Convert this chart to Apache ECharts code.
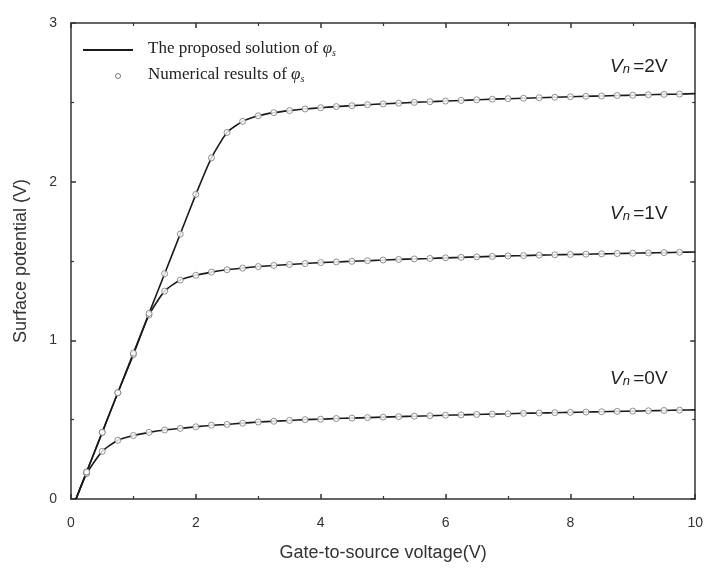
<!DOCTYPE html>
<html>
<head>
<meta charset="utf-8">
<script src="https://cdn.jsdelivr.net/npm/echarts@6/dist/echarts.min.js"></script>
<style>
  html, body { margin: 0; padding: 0; background: #fff; }
  #chart { width: 706px; height: 569px; }
</style>
</head>
<body>
<div id="chart"></div>
<script>
// gate-to-source voltage (V), sample points
var vgs = [0.25, 0.5, 0.75, 1.0, 1.25, 1.5, 1.75, 2.0, 2.25, 2.5,
           2.75, 3.0, 3.25, 3.5, 3.75, 4.0, 4.25, 4.5, 4.75, 5.0,
           5.25, 5.5, 5.75, 6.0, 6.25, 6.5, 6.75, 7.0, 7.25, 7.5,
           7.75, 8.0, 8.25, 8.5, 8.75, 9.0, 9.25, 9.5, 9.75, 10.0];

// surface potential (V) for Vn = 0, 1, 2 V
var phiVn0 = [0.16, 0.30, 0.37, 0.40, 0.42, 0.435, 0.445, 0.455, 0.465, 0.47,
              0.478, 0.485, 0.49, 0.495, 0.50, 0.503, 0.507, 0.51, 0.513, 0.516,
              0.519, 0.522, 0.525, 0.528, 0.53, 0.533, 0.535, 0.537, 0.54, 0.542,
              0.544, 0.546, 0.548, 0.55, 0.552, 0.554, 0.556, 0.558, 0.56, 0.562];
var phiVn1 = [0.17, 0.42, 0.67, 0.91, 1.16, 1.31, 1.38, 1.41, 1.43, 1.445,
              1.455, 1.465, 1.472, 1.478, 1.484, 1.49, 1.494, 1.498, 1.502, 1.506,
              1.51, 1.513, 1.516, 1.52, 1.523, 1.526, 1.529, 1.532, 1.534, 1.537,
              1.539, 1.541, 1.543, 1.545, 1.547, 1.549, 1.551, 1.553, 1.555, 1.557];
var phiVn2 = [0.17, 0.42, 0.67, 0.92, 1.17, 1.42, 1.67, 1.92, 2.15, 2.31,
              2.38, 2.415, 2.435, 2.448, 2.458, 2.466, 2.473, 2.479, 2.485, 2.49,
              2.495, 2.5, 2.504, 2.508, 2.512, 2.516, 2.52, 2.523, 2.526, 2.529,
              2.532, 2.535, 2.538, 2.54, 2.543, 2.545, 2.548, 2.55, 2.552, 2.555];

// curves all start from threshold point
var startPoint = [0.08, 0];
var curveLabels = ['2V', '1V', '0V'];

var toPairs = function (ys) {
    return vgs.map(function (x, i) { return [x, ys[i]]; });
};

var chart = echarts.init(document.getElementById('chart'));

var lineSeries = function (ys) {
    return {
        name: 'proposed',
        type: 'line',
        data: [startPoint].concat(toPairs(ys)),
        symbol: 'none',
        smooth: 0.2,
        lineStyle: { color: '#1a1a1a', width: 1.6 },
        z: 2
    };
};
var dotSeries = function (ys) {
    // numerical points, last sample not drawn
    return {
        name: 'numerical',
        type: 'scatter',
        data: toPairs(ys).slice(0, -1),
        symbol: 'circle',
        symbolSize: 6,
        itemStyle: { color: '#fff', borderColor: '#777', borderWidth: 1 },
        z: 3
    };
};

var axisCommon = {
    axisLine: { show: true, onZero: false, lineStyle: { color: '#333', width: 1.5 } },
    axisTick: { show: true, inside: true, length: 5, lineStyle: { color: '#333', width: 1.5 } },
    minorTick: { show: true, splitNumber: 2, length: 3, lineStyle: { color: '#333', width: 1.2 } },
    splitLine: { show: false }
};

var vnLabel = function (txt, y) {
    return {
        type: 'text',
        left: 610,
        top: y - 11,
        style: {
            text: '{v|V}{n|n} {r|=' + txt + '}',
            rich: {
                v: { fontFamily: 'Liberation Sans', fontSize: 19, fontStyle: 'italic', fill: '#222' },
                n: { fontFamily: 'Liberation Sans', fontSize: 13, fontStyle: 'italic', fill: '#222', verticalAlign: 'bottom', padding: [6, 0, 0, 0] },
                r: { fontFamily: 'Liberation Sans', fontSize: 19, fill: '#222' }
            }
        }
    };
};

var legendRich = {
    t: { fontFamily: 'Liberation Serif', fontSize: 17, fill: '#222' },
    p: { fontFamily: 'Liberation Serif', fontSize: 17, fontStyle: 'italic', fill: '#222' },
    s: { fontFamily: 'Liberation Serif', fontSize: 10, fontStyle: 'italic', fill: '#222', padding: [10, 0, 0, 0] }
};

var option = {
    animation: false,
    backgroundColor: '#fff',
    grid: { left: 71, right: 10, top: 23, bottom: 70 },
    xAxis: [
        Object.assign({
            type: 'value', min: 0, max: 10, interval: 2, position: 'bottom',
            name: 'Gate-to-source voltage(V)', nameLocation: 'middle', nameGap: 45,
            nameTextStyle: { fontFamily: 'Liberation Sans', fontSize: 18, color: '#333' },
            axisLabel: { fontFamily: 'Liberation Sans', fontSize: 14, color: '#333', margin: 17 }
        }, axisCommon),
        Object.assign({
            type: 'value', min: 0, max: 10, interval: 2, position: 'top',
            axisLabel: { show: false }
        }, axisCommon)
    ],
    yAxis: [
        Object.assign({
            type: 'value', min: 0, max: 3, interval: 1, position: 'left',
            name: 'Surface potential (V)', nameLocation: 'middle', nameGap: 41,
            nameTextStyle: { fontFamily: 'Liberation Sans', fontSize: 18, color: '#333' },
            axisLabel: { fontFamily: 'Liberation Sans', fontSize: 14, color: '#333', margin: 14 }
        }, axisCommon),
        Object.assign({
            type: 'value', min: 0, max: 3, interval: 1, position: 'right',
            axisLabel: { show: false }
        }, axisCommon)
    ],
    series: [
        lineSeries(phiVn0), lineSeries(phiVn1), lineSeries(phiVn2),
        dotSeries(phiVn0), dotSeries(phiVn1), dotSeries(phiVn2)
    ],
    graphic: [
        // legend
        { type: 'line', shape: { x1: 83, y1: 50, x2: 133, y2: 50 }, style: { stroke: '#1a1a1a', lineWidth: 1.8 } },
        { type: 'text', left: 148, top: 40, style: { text: '{t|The proposed solution of }{p|φ}{s|s}', rich: legendRich } },
        { type: 'circle', shape: { cx: 118, cy: 76, r: 2.5 }, style: { fill: '#fff', stroke: '#777', lineWidth: 1 } },
        { type: 'text', left: 148, top: 66, style: { text: '{t|Numerical results of }{p|φ}{s|s}', rich: legendRich } },
        vnLabel(curveLabels[0], 68),
        vnLabel(curveLabels[1], 215),
        vnLabel(curveLabels[2], 380)
    ]
};

chart.setOption(option);
</script>
</body>
</html>
